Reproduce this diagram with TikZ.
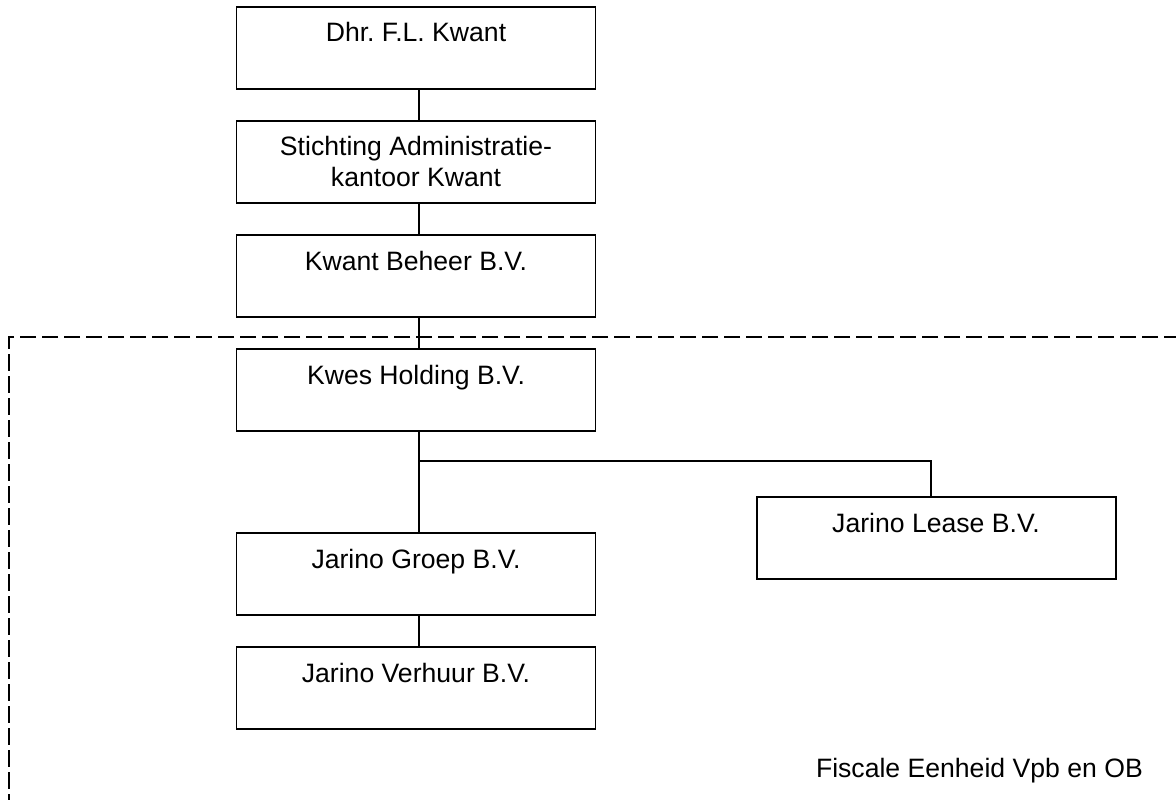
\documentclass[tikz,border=0pt]{standalone}
\usepackage{fontspec}
\setmainfont{Liberation Sans}
\frenchspacing
\begin{document}
\begin{tikzpicture}[x=1pt,y=-1pt,
  orgbox/.style={draw=black,line width=1.8pt,rectangle,minimum width=359pt,minimum height=82pt,inner sep=0pt},
  lbl/.style={font=\fontsize{26.6}{31}\selectfont,inner sep=0pt,anchor=base,align=center},
  conn/.style={draw=black,line width=1.6pt},
  fiscal/.style={draw=black,line width=1.8pt,dash pattern=on 16.5pt off 5.5pt}]
\useasboundingbox (0,0) rectangle (1176,800);
\fill[white] (0,0) rectangle (1176,800);
% dashed fiscal unit boundary
\draw[fiscal] (1180,337) -- (9,337) -- (9,804);
% boxes
\node[orgbox] (b1) at (416,48) {};
\node[orgbox] (b2) at (416,162) {};
\node[orgbox] (b3) at (416,276) {};
\node[orgbox] (b4) at (416,390) {};
\node[orgbox] (b5) at (416,574) {};
\node[orgbox] (b6) at (416,688) {};
\node[orgbox] (b7) at (936.5,538) {};
% labels
\node[lbl] (t1) at (416,42) {Dhr. F.L. Kwant};
\node[lbl] (t2) at (416,186) {Stichting Administratie-\\kantoor Kwant};
\node[lbl] (t3) at (416,270) {Kwant Beheer B.V.};
\node[lbl] (t4) at (416,384) {Kwes Holding B.V.};
\node[lbl] (t5) at (416,568) {Jarino Groep B.V.};
\node[lbl] (t6) at (416,682) {Jarino Verhuur B.V.};
\node[lbl] (t7) at (936,532) {Jarino Lease B.V.};
\node[lbl,anchor=base east] (fe) at (1143,777) {Fiscale Eenheid Vpb en OB};
% connectors
\coordinate (j) at (419,461);
\draw[conn] ([xshift=3pt]b1.south) -- ([xshift=3pt]b2.north);
\draw[conn] ([xshift=3pt]b2.south) -- ([xshift=3pt]b3.north);
\draw[conn] ([xshift=3pt]b3.south) -- ([xshift=3pt]b4.north);
\draw[conn] ([xshift=3pt]b4.south) -- ([xshift=3pt]b5.north);
\draw[conn] ([xshift=3pt]b5.south) -- ([xshift=3pt]b6.north);
\draw[conn] (j) -| ([xshift=-5.5pt]b7.north);
\end{tikzpicture}
\end{document}
